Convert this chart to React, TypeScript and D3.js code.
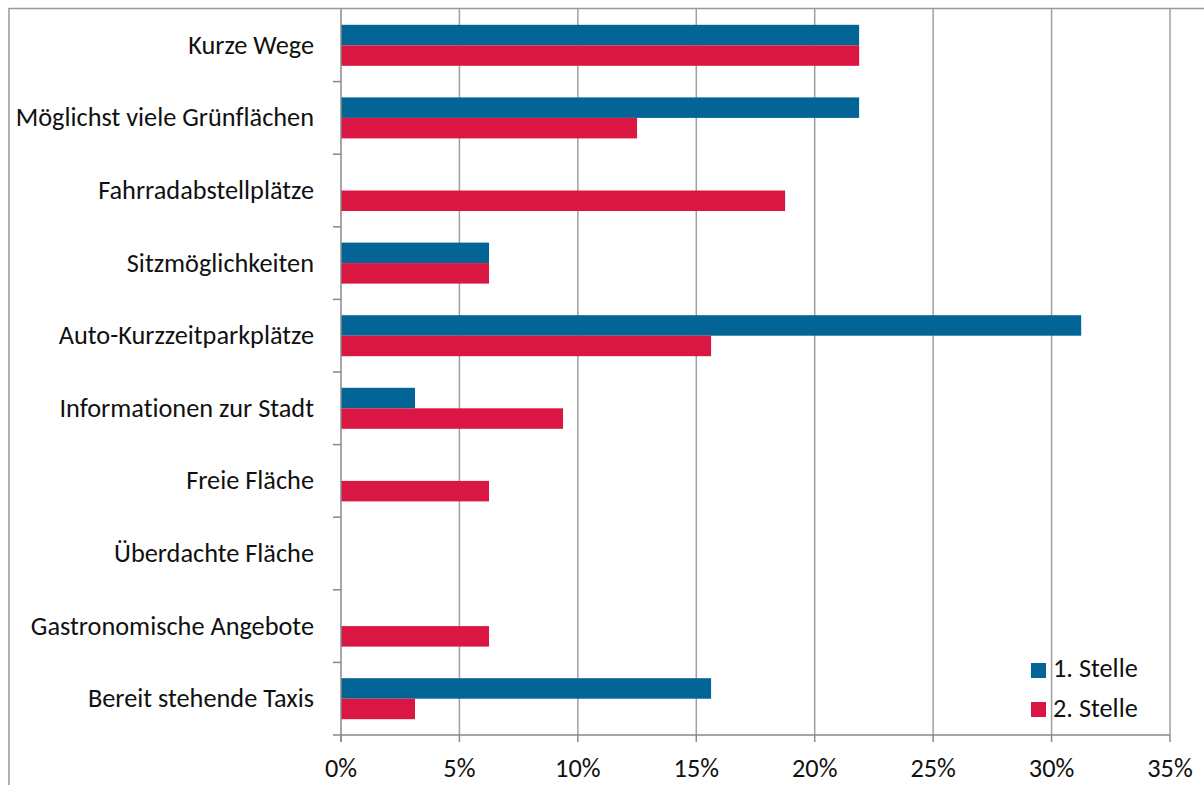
import React from "react";
import * as d3 from "d3";

const categories = [
  "Kurze Wege",
  "Möglichst viele Grünflächen",
  "Fahrradabstellplätze",
  "Sitzmöglichkeiten",
  "Auto-Kurzzeitparkplätze",
  "Informationen zur Stadt",
  "Freie Fläche",
  "Überdachte Fläche",
  "Gastronomische Angebote",
  "Bereit stehende Taxis",
];
const stelle1 = [21.875, 21.875, 0, 6.25, 31.25, 3.125, 0, 0, 0, 15.625];
const stelle2 = [21.875, 12.5, 18.75, 6.25, 15.625, 9.375, 6.25, 0, 6.25, 3.125];
const seriesNames = ["1. Stelle", "2. Stelle"];
const colors = ["#026595", "#DA1643"];
const xTicks = [0, 5, 10, 15, 20, 25, 30, 35];

const W = 1204;
const H = 785;
const left = 341;
const right = 1170;
const top = 9;
const bottom = 735;
const font = "Carlito, Calibri, 'Open Sans', 'Liberation Sans', sans-serif";
const fs = 26.3;

export default function App() {
  const x = d3.scaleLinear().domain([0, 35]).range([left, right]);
  const y = d3.scaleBand().domain(categories).range([top, bottom]).paddingInner(0).paddingOuter(0);
  const bh = y.bandwidth();
  const barH = 20.5;
  const series = [stelle1, stelle2];
  const grid = "#a0a0a0";
  const textStyle = { fontVariantLigatures: "none" as const };
  return (
    <svg width={W} height={H} style={{ position: "absolute", left: 0, top: 0, background: "#fff" }}>
      <rect x={0} y={0} width={W} height={H} fill="#fff" />
      {/* outer frame */}
      <line x1={9} x2={W} y1={8.5} y2={8.5} stroke="#999" strokeWidth={1.5} />
      <line x1={9} x2={9} y1={8} y2={H} stroke="#999" strokeWidth={1.5} />
      {/* gridlines */}
      {xTicks.slice(1).map((t) => (
        <line key={"g" + t} x1={x(t)} x2={x(t)} y1={top} y2={bottom} stroke={grid} strokeWidth={1.5} />
      ))}
      {/* bars */}
      {categories.map((c, i) => {
        const cy = (y(c) as number) + bh / 2;
        return series.map((s, k) =>
          s[i] > 0 ? (
            <rect
              key={c + k}
              x={x(0)}
              y={cy - barH + k * barH}
              width={x(s[i]) - x(0)}
              height={barH}
              fill={colors[k]}
            />
          ) : null
        );
      })}
      {/* axes */}
      <line x1={left} x2={left} y1={top} y2={bottom + 7} stroke="#888" strokeWidth={1.5} />
      <line x1={left - 8} x2={right} y1={bottom} y2={bottom} stroke="#888" strokeWidth={1.5} />
      {categories.slice(1).map((c) => (
        <line key={"yt" + c} x1={left - 8} x2={left} y1={y(c) as number} y2={y(c) as number} stroke="#888" strokeWidth={1.5} />
      ))}
      {xTicks.map((t) => (
        <line key={"xt" + t} x1={x(t)} x2={x(t)} y1={bottom} y2={bottom + 7} stroke="#888" strokeWidth={1.5} />
      ))}
      {/* labels */}
      {categories.map((c) => (
        <text
          key={"l" + c}
          x={314}
          y={(y(c) as number) + bh / 2 + 8.5}
          textAnchor="end"
          fontFamily={font}
          fontSize={fs}
          fill="#111"
          style={textStyle}
        >
          {c}
        </text>
      ))}
      {xTicks.map((t) => (
        <text
          key={"xl" + t}
          x={x(t)}
          y={777}
          textAnchor="middle"
          fontFamily={font}
          fontSize={fs}
          fill="#111"
          style={textStyle}
        >
          {t + "%"}
        </text>
      ))}
      {/* legend */}
      {seriesNames.map((n, k) => (
        <g key={n}>
          <rect x={1031} y={663 + k * 39} width={15} height={15} fill={colors[k]} />
          <text x={1053} y={677 + k * 39.5} fontFamily={font} fontSize={fs} fill="#111" style={textStyle}>
            {n}
          </text>
        </g>
      ))}
    </svg>
  );
}
